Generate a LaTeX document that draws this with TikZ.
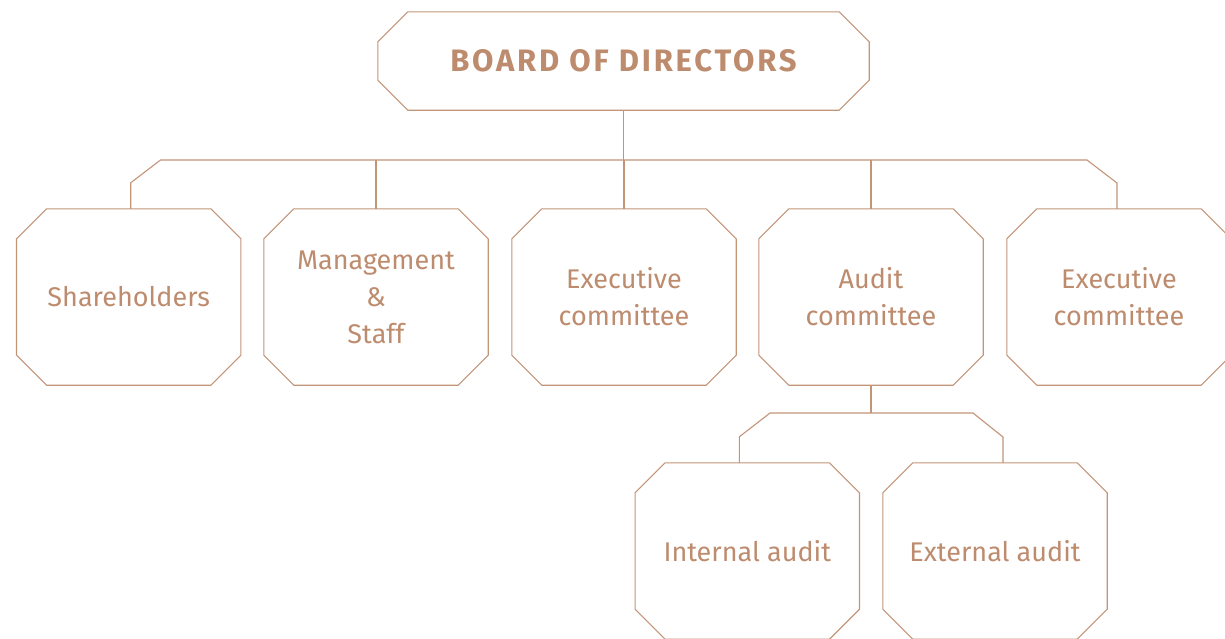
\documentclass[tikz,border=0pt]{standalone}
\usepackage{fontspec}
\setmainfont{Fira Sans}
\usetikzlibrary{calc}
\definecolor{ln}{RGB}{194,148,120}
\definecolor{txt}{RGB}{189,139,109}
\newfontfamily\boardfont[LetterSpace=9]{Fira Sans}
\newcommand\octa[2]{%
  \draw[conn] ([xshift=#2]#1.north west) -- ([xshift=-#2]#1.north east)
    -- ([yshift=-#2]#1.north east) -- ([yshift=#2]#1.south east)
    -- ([xshift=-#2]#1.south east) -- ([xshift=#2]#1.south west)
    -- ([yshift=#2]#1.south west) -- ([yshift=-#2]#1.north west) -- cycle;}
\tikzset{
  conn/.style={draw=ln, line width=1.1pt, line join=miter},
  unit/.style={minimum width=224pt, minimum height=176pt, inner sep=0pt,
    align=center, text=txt, font=\fontsize{27}{37}\selectfont},
  boardbox/.style={minimum width=491pt, minimum height=98pt, inner sep=0pt,
    text=txt, font=\fontsize{31}{35}\selectfont\boardfont\bfseries}
}
\begin{document}
\begin{tikzpicture}[x=1pt,y=-1pt]
\useasboundingbox (0,0) rectangle (1225,638);
\node[boardbox] (board) at (623.5,61) {BOARD OF DIRECTORS};
\node[unit] (sh) at (128.7,297) {Shareholders};
\node[unit] (mg) at (376,297) {Management\\\&\\Staff};
\node[unit] (ec) at (624,297) {Executive\\committee};
\node[unit] (au) at (871,297) {Audit\\committee};
\node[unit] (ex) at (1119,297) {Executive\\committee};
\node[unit] (ia) at (747.3,551) {Internal audit};
\node[unit] (ea) at (995,551) {External audit};
\octa{board}{30pt}
\foreach \n in {sh,mg,ec,au,ex,ia,ea}{\octa{\n}{30pt}}
\coordinate (bL) at (160.5,160);
\coordinate (bR) at (1087,160);
\draw[conn] ([xshift=2pt]sh.north) -- ++(0,-26) -- (bL) -- (bR)
  -- ([xshift=-2pt]ex.north |- 0,183) -- ([xshift=-2pt]ex.north);
\foreach \n in {board}{\draw[conn] (\n.south) -- (\n.south |- bL);}
\foreach \n in {mg,ec,au}{\draw[conn] (\n.north) -- (\n.north |- bL);}
\coordinate (sL) at (770,413);
\coordinate (sR) at (973,413);
\draw[conn] (au.south) -- (au.south |- sL);
\draw[conn] ([xshift=-8pt]ia.north) -- ++(0,-26) -- (sL) -- (sR)
  -- ([xshift=8pt]ea.north |- 0,437) -- ([xshift=8pt]ea.north);
\end{tikzpicture}
\end{document}
